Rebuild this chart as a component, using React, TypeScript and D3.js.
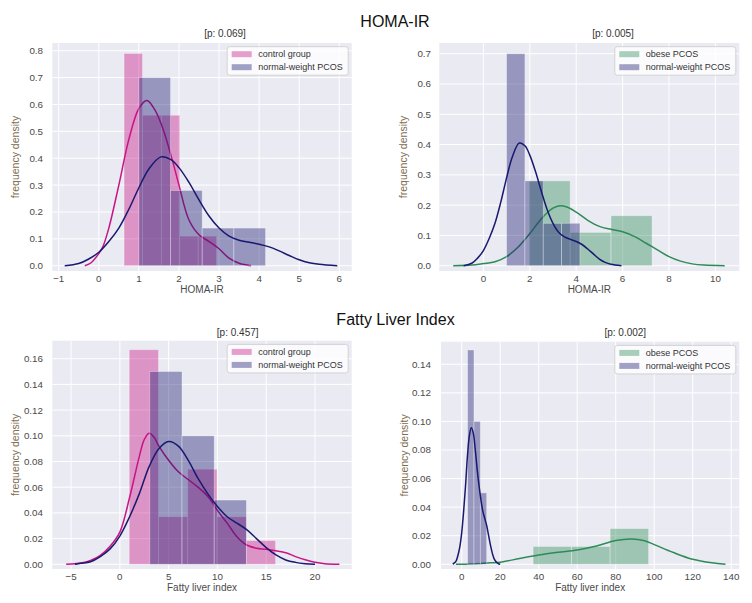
import React from "react";
import * as d3 from "d3";

// ---------- DATA ----------
const homaControlBins = [0.63, 1.09, 1.56, 2.02, 2.48, 2.94];
const homaControlDensity = [0.79, 0.56, 0.56, 0.11, 0.11];
const homaNormalBins = [1.0, 1.79, 2.58, 3.37, 4.16];
const homaNormalDensity = [0.7, 0.28, 0.14, 0.14];
const homaObeseBins = [1.97, 3.74, 5.5, 7.27];
const homaObeseDensity = [0.28, 0.11, 0.165];

const fliControlBins = [0.96, 3.96, 6.96, 9.96, 12.96, 15.96];
const fliControlDensity = [0.167, 0.037, 0.074, 0.037, 0.0185];
const fliNormalBins = [3.07, 6.37, 9.67, 12.97];
const fliNormalDensity = [0.15, 0.1, 0.05];
const fliObeseBins = [37.1, 57.1, 77.1, 97.1];
const fliObeseDensity = [0.0125, 0.0125, 0.025];

const homaControlKdeX = [-0.35, -0.2, 0, 0.1, 0.25, 0.5, 0.75, 1.0, 1.2, 1.4, 1.6, 1.84, 2.0, 2.25, 2.5, 2.75, 3.0, 3.25, 3.5, 3.8];
const homaControlKdeY = [0, 0.01, 0.045, 0.07, 0.14, 0.3, 0.47, 0.585, 0.615, 0.58, 0.51, 0.39, 0.3, 0.17, 0.115, 0.09, 0.063, 0.028, 0.009, 0];
const homaNormalKdeX = [-0.85, -0.5, -0.25, 0, 0.25, 0.5, 0.75, 1.0, 1.25, 1.55, 1.8, 2.0, 2.25, 2.5, 2.75, 3.0, 3.25, 3.5, 3.75, 4.0, 4.25, 4.5, 4.75, 5.0, 5.25, 5.5, 5.95];
const homaNormalKdeY = [0, 0.008, 0.025, 0.05, 0.09, 0.14, 0.21, 0.29, 0.36, 0.405, 0.395, 0.365, 0.31, 0.245, 0.185, 0.14, 0.11, 0.095, 0.087, 0.08, 0.07, 0.055, 0.038, 0.022, 0.011, 0.005, 0];
const homaObeseKdeX = [-1.3, -0.5, 0, 0.5, 1, 1.5, 2, 2.5, 3, 3.3, 3.6, 4, 4.5, 5, 5.5, 6, 6.5, 7, 7.5, 8, 8.5, 9, 9.5, 10.4];
const homaObeseKdeY = [0, 0.002, 0.007, 0.013, 0.03, 0.062, 0.106, 0.155, 0.19, 0.198, 0.194, 0.177, 0.15, 0.13, 0.12, 0.112, 0.097, 0.075, 0.052, 0.03, 0.015, 0.006, 0.002, 0];

const fliControlKdeX = [-5.5, -4, -3, -2, -1, 0, 1, 2, 2.5, 3, 3.5, 4, 5, 6, 7, 8, 9, 10, 11, 12, 13, 14, 15, 16, 17, 18, 19, 20, 21, 22.5];
const fliControlKdeY = [0, 0.001, 0.003, 0.007, 0.014, 0.025, 0.052, 0.084, 0.097, 0.102, 0.099, 0.092, 0.081, 0.072, 0.066, 0.06, 0.053, 0.042, 0.032, 0.0215, 0.015, 0.0125, 0.0117, 0.0105, 0.009, 0.006, 0.0035, 0.0016, 0.0005, 0];
const fliNormalKdeX = [-4.6, -4, -3, -2, -1, 0, 1, 2, 3, 4, 5, 6, 7, 8, 9, 10, 11, 12, 13, 14, 15, 16, 17, 18, 19, 20];
const fliNormalKdeY = [0, 0.0008, 0.002, 0.006, 0.012, 0.022, 0.037, 0.055, 0.076, 0.09, 0.0955, 0.092, 0.081, 0.067, 0.055, 0.045, 0.037, 0.032, 0.027, 0.02, 0.013, 0.0073, 0.0034, 0.0015, 0.0005, 0];
const fliObeseKdeX = [-3, 5, 10, 15, 20, 30, 40, 50, 60, 70, 80, 88, 95, 100, 110, 120, 130, 137];
const fliObeseKdeY = [0, 0.0002, 0.0005, 0.001, 0.0015, 0.004, 0.0065, 0.0084, 0.01, 0.0128, 0.0166, 0.0177, 0.0165, 0.0138, 0.0082, 0.0035, 0.001, 0];

const homaXTicks1 = [-1, 0, 1, 2, 3, 4, 5, 6];
const homaYTicks1 = [0, 0.1, 0.2, 0.3, 0.4, 0.5, 0.6, 0.7, 0.8];
const homaXTicks2 = [0, 2, 4, 6, 8, 10];
const homaYTicks2 = [0, 0.1, 0.2, 0.3, 0.4, 0.5, 0.6, 0.7];
const fliXTicks1 = [-5, 0, 5, 10, 15, 20];
const fliYTicks1 = [0, 0.02, 0.04, 0.06, 0.08, 0.1, 0.12, 0.14, 0.16];
const fliXTicks2 = [0, 20, 40, 60, 80, 100, 120, 140];
const fliYTicks2 = [0, 0.02, 0.04, 0.06, 0.08, 0.1, 0.12, 0.14];

const mainTitles = ["HOMA-IR", "Fatty Liver Index"];
const pValues = ["[p: 0.069]", "[p: 0.005]", "[p: 0.457]", "[p: 0.002]"];
const groupLabels = { control: "control group", normal: "normal-weight PCOS", obese: "obese PCOS" };
const xLabels = ["HOMA-IR", "Fatty liver index"];
const yLabel = "frequency density";

// ---------- STYLE ----------
const COLORS = { control: "#c71585", normal: "#191970", obese: "#2e8b57" };
const FONT = "'Liberation Sans', Arial, Helvetica, sans-serif";
const BG = "#eaeaf2";

type Series = { key: "control" | "normal" | "obese"; bins: number[]; dens: number[]; kx: number[]; ky: number[] };

type PanelCfg = {
  left: number; right: number; top: number; bottom: number;
  xDomain: [number, number]; yDomain: [number, number];
  xTicks: number[]; yTicks: number[]; yFmt: (v: number) => string;
  series: Series[]; title: string; titleX: number; titleY: number;
  xLabel: string; yLabelX: number; tickRight: number;
};

function Panel({ c }: { c: PanelCfg }) {
  const x = d3.scaleLinear().domain(c.xDomain).range([c.left, c.right]);
  const y = d3.scaleLinear().domain(c.yDomain).range([c.bottom, c.top]);
  const line = d3.line<[number, number]>().x((d) => x(d[0])).y((d) => Math.min(y(0), y(d[1]))).curve(d3.curveCatmullRom.alpha(0.5));
  const cx = (c.left + c.right) / 2;
  const cy = (c.top + c.bottom) / 2;
  const legW = 121, legH = 28.5;
  const legX = c.right - 3.5 - legW, legY = c.top + 3.7;
  return (
    <g>
      <rect x={c.left} y={c.top} width={c.right - c.left} height={c.bottom - c.top} fill={BG} />
      {c.xTicks.map((t) => (
        <line key={"gx" + t} x1={x(t)} x2={x(t)} y1={c.top} y2={c.bottom} stroke="#fff" strokeWidth={1} />
      ))}
      {c.yTicks.map((t) => (
        <line key={"gy" + t} x1={c.left} x2={c.right} y1={y(t)} y2={y(t)} stroke="#fff" strokeWidth={1} />
      ))}
      {c.series.map((s) => (
        <g key={s.key}>
          {s.dens.map((d, i) => (
            <rect key={i} x={x(s.bins[i])} y={y(d)} width={x(s.bins[i + 1]) - x(s.bins[i])} height={y(0) - y(d)}
              fill={COLORS[s.key]} fillOpacity={0.4} stroke="#fff" strokeOpacity={0.4} strokeWidth={0.8} />
          ))}
          <path d={line(s.kx.map((v, i) => [v, s.ky[i]] as [number, number])) || ""} fill="none" stroke={COLORS[s.key]} strokeWidth={1.5} />
        </g>
      ))}
      {c.xTicks.map((t) => (
        <text key={"tx" + t} x={x(t)} y={c.bottom + 11.3} textAnchor="middle" fontSize={9.8} fill="#4a4a4a" fontFamily={FONT}>{String(t).replace("-", "\u2212")}</text>
      ))}
      {c.yTicks.map((t) => (
        <text key={"ty" + t} x={c.tickRight} y={y(t) + 3.5} textAnchor="end" fontSize={9.8} fill="#4a4a4a" fontFamily={FONT}>{c.yFmt(t)}</text>
      ))}
      <text x={c.titleX} y={c.titleY} textAnchor="middle" fontSize={10} fill="#333" fontFamily={FONT}>{c.title}</text>
      <text x={cx} y={c.bottom + 22} textAnchor="middle" fontSize={10} fill="#4a4a4a" fontFamily={FONT}>{c.xLabel}</text>
      <text transform={`translate(${c.yLabelX},${cy}) rotate(-90)`} textAnchor="middle" dominantBaseline="central" fontSize={10.5} fill="#7d6c50" fontFamily={FONT}>{yLabel}</text>
      <rect x={legX} y={legY} width={legW} height={legH} rx={2.5} fill="#fff" fillOpacity={0.8} stroke="#cccccc" strokeWidth={0.8} />
      {c.series.map((s, i) => (
        <g key={"lg" + s.key}>
          <rect x={legX + 4.5} y={legY + 5.5 + i * 13 - 1} width={20} height={6} fill={COLORS[s.key]} fillOpacity={0.4} />
          <text x={legX + 31} y={legY + 10.3 + i * 13} fontSize={9} fill="#333" fontFamily={FONT}>{groupLabels[s.key]}</text>
        </g>
      ))}
    </g>
  );
}

export default function App() {
  const f1 = d3.format(".1f");
  const f2 = d3.format(".2f");
  const panels: PanelCfg[] = [
    {
      left: 52.3, right: 351.7, top: 43, bottom: 271, xDomain: [-1.16, 6.31], yDomain: [-0.0197, 0.8287],
      xTicks: homaXTicks1, yTicks: homaYTicks1, yFmt: f1,
      series: [
        { key: "control", bins: homaControlBins, dens: homaControlDensity, kx: homaControlKdeX, ky: homaControlKdeY },
        { key: "normal", bins: homaNormalBins, dens: homaNormalDensity, kx: homaNormalKdeX, ky: homaNormalKdeY },
      ],
      title: pValues[0], titleX: 225, titleY: 37, xLabel: xLabels[0], yLabelX: 15, tickRight: 43,
    },
    {
      left: 439.3, right: 739.3, top: 43, bottom: 271, xDomain: [-1.9, 11.03], yDomain: [-0.0175, 0.7353],
      xTicks: homaXTicks2, yTicks: homaYTicks2, yFmt: f1,
      series: [
        { key: "obese", bins: homaObeseBins, dens: homaObeseDensity, kx: homaObeseKdeX, ky: homaObeseKdeY },
        { key: "normal", bins: homaNormalBins, dens: homaNormalDensity, kx: homaNormalKdeX, ky: homaNormalKdeY },
      ],
      title: pValues[1], titleX: 613, titleY: 37, xLabel: xLabels[0], yLabelX: 403, tickRight: 431,
    },
    {
      left: 52.3, right: 351.7, top: 340.7, bottom: 569, xDomain: [-6.92, 23.76], yDomain: [-0.00366, 0.174],
      xTicks: fliXTicks1, yTicks: fliYTicks1, yFmt: f2,
      series: [
        { key: "control", bins: fliControlBins, dens: fliControlDensity, kx: fliControlKdeX, ky: fliControlKdeY },
        { key: "normal", bins: fliNormalBins, dens: fliNormalDensity, kx: fliNormalKdeX, ky: fliNormalKdeY },
      ],
      title: pValues[2], titleX: 237.7, titleY: 335.5, xLabel: xLabels[1], yLabelX: 15, tickRight: 43,
    },
    {
      left: 441, right: 739.3, top: 341.7, bottom: 569, xDomain: [-10.75, 144.2], yDomain: [-0.0033, 0.1558],
      xTicks: fliXTicks2, yTicks: fliYTicks2, yFmt: f2,
      series: [
        { key: "obese", bins: fliObeseBins, dens: fliObeseDensity, kx: fliObeseKdeX, ky: fliObeseKdeY },
        { key: "normal", bins: fliNormalBins, dens: fliNormalDensity, kx: fliNormalKdeX, ky: fliNormalKdeY },
      ],
      title: pValues[3], titleX: 625.3, titleY: 335.5, xLabel: xLabels[1], yLabelX: 404, tickRight: 431,
    },
  ];
  return (
    <svg width={752} height={603} style={{ position: "absolute", left: 0, top: 0, background: "#fff" }}>
      <text x={395} y={27} textAnchor="middle" fontSize={16} fill="#111" fontFamily={FONT}>{mainTitles[0]}</text>
      <text x={395.5} y={324.5} textAnchor="middle" fontSize={16} fill="#111" fontFamily={FONT}>{mainTitles[1]}</text>
      {panels.map((p, i) => (
        <Panel key={i} c={p} />
      ))}
    </svg>
  );
}
